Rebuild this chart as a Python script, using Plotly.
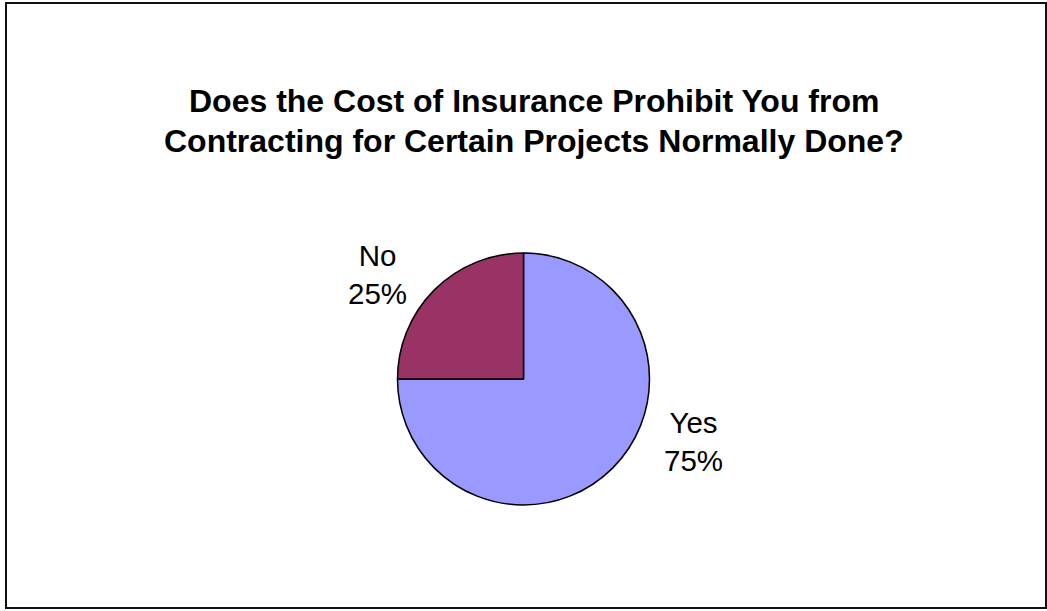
import plotly.graph_objects as go

# Survey answers
labels = ["Yes", "No"]
values = [75, 25]
colors = ["#9999FF", "#993366"]

title_lines = [
    "Does the Cost of Insurance Prohibit You from",
    "Contracting for Certain Projects Normally Done?",
]

W, H = 1047, 611
FONT = "Liberation Sans, Arial, sans-serif"

# pie placement in pixels (centre and radius)
cx, cy, r = 523.5, 379, 126


def px_x(x):
    return x / W


def px_y(y):
    return 1 - y / H


fig = go.Figure(
    go.Pie(
        labels=labels,
        values=values,
        sort=False,
        direction="clockwise",
        rotation=0,
        marker=dict(colors=colors, line=dict(color="black", width=1.5)),
        textinfo="none",
        hoverinfo="label+percent",
        showlegend=False,
        domain=dict(
            x=[px_x(cx - r), px_x(cx + r)],
            y=[px_y(cy + r), px_y(cy - r)],
        ),
    )
)

total = sum(values)
# outside label positions (pixel centres) for each slice
label_pos = {"Yes": (693.5, 441), "No": (377, 274.5)}

annotations = []
for lab, val in zip(labels, values):
    x, y = label_pos[lab]
    annotations.append(
        dict(
            text=f"{lab}<br>{val / total * 100:.0f}%",
            x=px_x(x), y=px_y(y), xref="paper", yref="paper",
            xanchor="center", yanchor="middle", showarrow=False,
            font=dict(family=FONT, size=29.5, color="black"),
        )
    )

for i, line in enumerate(title_lines):
    annotations.append(
        dict(
            text=f"<b>{line}</b>",
            x=px_x(534), y=px_y(101 + 40 * i), xref="paper", yref="paper",
            xanchor="center", yanchor="middle", showarrow=False,
            font=dict(family=FONT, size=32, color="black"),
        )
    )

fig.update_layout(
    width=W,
    height=H,
    margin=dict(l=0, r=0, t=0, b=0),
    paper_bgcolor="white",
    plot_bgcolor="white",
    annotations=annotations,
    shapes=[
        dict(
            type="rect", xref="paper", yref="paper",
            x0=px_x(6), x1=px_x(1046), y0=px_y(608), y1=px_y(3),
            line=dict(color="#111111", width=2),
        )
    ],
)

fig.write_html("out.html")
